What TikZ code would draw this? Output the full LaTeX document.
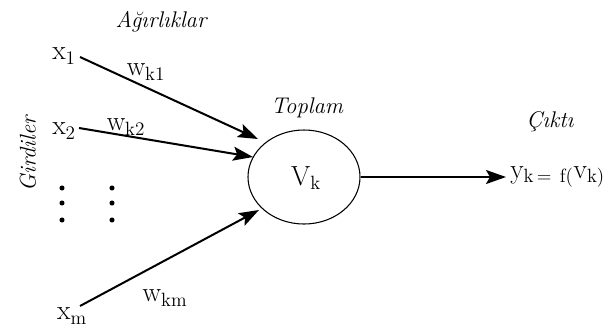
\documentclass[tikz,border=0pt]{standalone}
\usetikzlibrary{arrows.meta,shapes.geometric}
\begin{document}
\begin{tikzpicture}[x=0.75pt,y=-0.75pt,
  lbl/.style={inner sep=0pt,font=\fontsize{20}{23}\selectfont},
  ttl/.style={inner sep=0pt,font=\fontsize{17}{20}\selectfont\itshape},
  wire/.style={line width=1.5pt,-{Stealth[length=15pt,width=10.5pt,inset=3pt]}},
  dotmark/.style={circle,fill=black,inner sep=0pt,minimum size=3.8pt}]
\useasboundingbox (0,0) rectangle (614,330);

% summing unit
\node[draw,line width=0.8pt,ellipse,minimum width=84pt,minimum height=70.5pt,inner sep=0pt] (V) at (304,177) {};
\node[lbl] (Vk) at (306,178) {$\mathrm{V}_{\mathrm{k}}$};

% headings
\node[ttl] (agr) at (161,22) {Ağırlıklar};
\node[ttl] (top) at (307,108) {Toplam};
\node[ttl] (cik) at (550,122) {Çıktı};
\node[ttl,rotate=90] (gir) at (28,154) {Girdiler};

% inputs
\node[lbl] (x1) at (64,56) {$\mathrm{x}_{1}$};
\node[lbl] (x2) at (64,131) {$\mathrm{x}_{2}$};
\node[lbl] (xm) at (72,316) {$\mathrm{x}_{\mathrm{m}}$};

% weights
\node[lbl] (w1) at (146,72) {$\mathrm{w}_{\mathrm{k1}}$};
\node[lbl] (w2) at (126,127) {$\mathrm{w}_{\mathrm{k2}}$};
\node[lbl] (wm) at (165,298) {$\mathrm{w}_{\mathrm{km}}$};

% output
\node[lbl,anchor=west] (y) at (510,177) {$\mathrm{y}_{\mathrm{k\,=\;\,f(}}\mathrm{v}_{\mathrm{k)}}$};

% elided inputs
\foreach \cx/\nm in {62/a,112/b}{
  \foreach \cy/\k in {188/1,203/2,220/3}{
    \node[dotmark] (d\nm\k) at (\cx,\cy) {};
  }
}

% connector ends
\coordinate (s1) at (80,57);
\coordinate (t1) at (258,139);
\coordinate (s2) at (79,128);
\coordinate (t2) at (253,157);
\coordinate (sm) at (80,306);
\coordinate (tm) at (259,210);
\coordinate (ty) at (506,177);

\draw[wire] (s1) -- (t1);
\draw[wire] (s2) -- (t2);
\draw[wire] (sm) -- (tm);
\draw[wire] (V.east) -- (ty);
\end{tikzpicture}
\end{document}
